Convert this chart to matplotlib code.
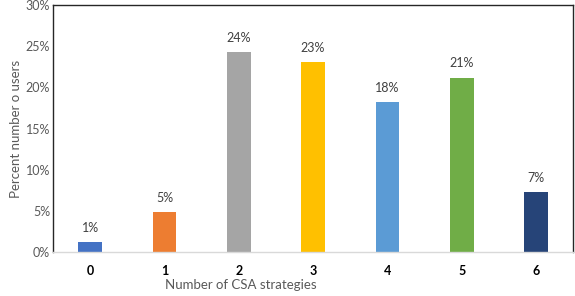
import matplotlib.pyplot as plt
from matplotlib.ticker import PercentFormatter

# Percent of users by number of CSA strategies adopted
strategies = ['0', '1', '2', '3', '4', '5', '6']
percent = [1.2, 4.9, 24.3, 23.1, 18.2, 21.2, 7.3]
labels = ['1%', '5%', '24%', '23%', '18%', '21%', '7%']
colors = ['#4472C4', '#ED7D31', '#A5A5A5', '#FFC000', '#5B9BD5', '#70AD47', '#264478']

plt.rcParams['font.family'] = ['Lato', 'DejaVu Sans']

fig, ax = plt.subplots(figsize=(5.75, 2.96), dpi=100)
fig.subplots_adjust(left=0.092, right=0.997, top=0.983, bottom=0.148)

x = range(len(strategies))
bars = ax.bar(x, percent, width=0.32, color=colors)
for b, lab in zip(bars, labels):
    ax.text(b.get_x() + b.get_width() / 2, b.get_height() + 1.0, lab,
            ha='center', va='bottom', fontsize=9, color='#404040')

ax.set_xlim(-0.5, 6.5)
ax.set_ylim(0, 30)
ax.set_yticks(range(0, 31, 5))
ax.yaxis.set_major_formatter(PercentFormatter(decimals=0))
ax.set_xticks(list(x))
ax.set_xticklabels(strategies, fontweight='bold', color='black')
ax.tick_params(axis='both', length=0, labelsize=9)
ax.tick_params(axis='y', colors='#595959', pad=2)
ax.tick_params(axis='x', pad=9)

for s in ['top', 'left', 'right']:
    ax.spines[s].set_color('#262626')
    ax.spines[s].set_linewidth(1.0)
ax.spines['bottom'].set_color('#D9D9D9')
ax.spines['bottom'].set_linewidth(1.0)

ax.set_xlabel('Number of CSA strategies', fontsize=9.5, color='#595959', loc='left', labelpad=2)
ax.xaxis.set_label_coords(0.215, -0.11)
ax.set_ylabel('Percent number o users', fontsize=9.5, color='#595959', labelpad=3)

plt.savefig('out.png')
